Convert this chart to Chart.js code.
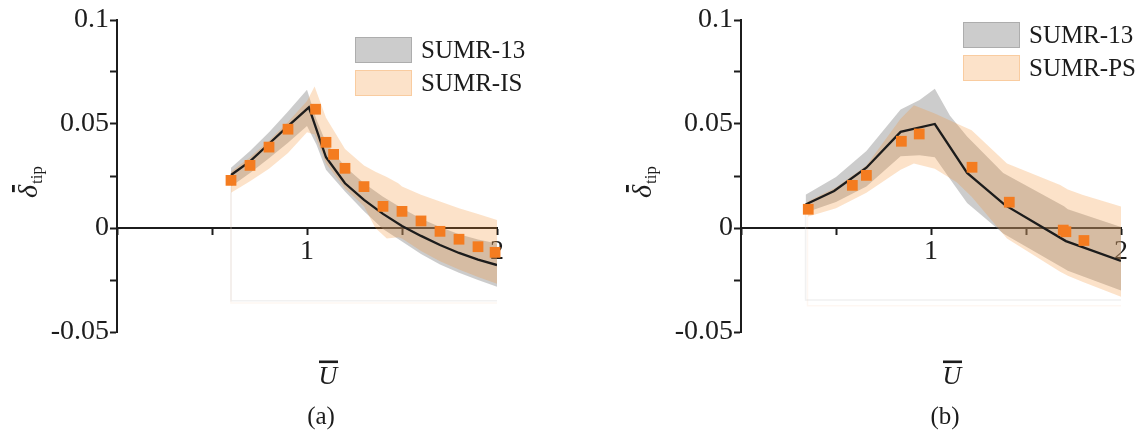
<!DOCTYPE html>
<html>
<head>
<meta charset="utf-8">
<script src="https://cdn.jsdelivr.net/npm/chart.js@4.4.1/dist/chart.umd.min.js"></script>
<style>
  html, body { margin: 0; padding: 0; background: #fff; }
  #wrap { position: relative; width: 1139px; height: 433px; }
  canvas { position: absolute; top: 0; }
  #panelA { left: 0; }
  #panelB { left: 560px; }
</style>
</head>
<body>
<div id="wrap">
  <canvas id="panelA" width="560" height="433"></canvas>
  <canvas id="panelB" width="579" height="433"></canvas>
</div>
<script>
// ---- panel (a): SUMR-13 vs SUMR-IS ----
const scatterA_x = [0.6, 0.7, 0.8, 0.9, 1.045, 1.1, 1.14, 1.2, 1.3, 1.4, 1.5, 1.6, 1.7, 1.8, 1.9, 1.99];
const scatterA_y = [0.0229, 0.0301, 0.0389, 0.0475, 0.0571, 0.0412, 0.0354, 0.0287, 0.0199, 0.0104, 0.008, 0.0034, -0.0016, -0.0054, -0.009, -0.0117];

const lineA_x = [0.6, 0.7, 0.8, 0.9, 1.01, 1.1, 1.2, 1.3, 1.4, 1.5, 1.6, 1.7, 1.8, 1.9, 2.0];
const lineA_y = [0.0255, 0.032, 0.0405, 0.049, 0.058, 0.034, 0.0215, 0.0135, 0.0068, 0.001, -0.0038, -0.0082, -0.012, -0.0152, -0.0178];

const grayA_x  = [0.6, 0.7, 0.8, 0.9, 1.0, 1.05, 1.1, 1.2, 1.3, 1.4, 1.5, 1.6, 1.7, 1.8, 1.9, 2.0];
const grayA_hi = [0.029, 0.037, 0.046, 0.056, 0.0665, 0.052, 0.041, 0.0295, 0.0215, 0.015, 0.0095, 0.0045, 0.0005, -0.003, -0.0055, -0.0075];
const grayA_lo = [0.020, 0.0265, 0.0335, 0.041, 0.049, 0.040, 0.028, 0.0175, 0.008, -0.0005, -0.0065, -0.0125, -0.0175, -0.0215, -0.025, -0.0282];

const orangeA_x  = [0.6, 0.7, 0.8, 0.9, 1.0, 1.04, 1.1, 1.2, 1.3, 1.36, 1.42, 1.48, 1.5, 1.6, 1.7, 1.8, 1.9, 2.0];
const orangeA_hi = [0.027, 0.034, 0.042, 0.051, 0.061, 0.068, 0.053, 0.038, 0.030, 0.027, 0.0245, 0.0215, 0.020, 0.016, 0.0127, 0.0095, 0.0067, 0.0038];
const orangeA_lo = [0.017, 0.0225, 0.0285, 0.036, 0.046, 0.045, 0.031, 0.019, 0.0105, 0.0, -0.005, -0.0045, -0.005, -0.011, -0.016, -0.020, -0.0235, -0.0268];

const edgeA_x = [0.6, 0.6, 2.0];
const edgeA_gray = [0.020, -0.035, -0.035];
const edgeA_orange = [0.017, -0.036, -0.036];

// ---- panel (b): SUMR-13 vs SUMR-PS ----
const scatterB_x = [0.354, 0.586, 0.66, 0.844, 0.938, 1.216, 1.412, 1.696, 1.71, 1.805];
const scatterB_y = [0.009, 0.0205, 0.0253, 0.0417, 0.0452, 0.0292, 0.0124, -0.001, -0.0018, -0.006];

const lineB_x = [0.34, 0.49, 0.66, 0.84, 1.02, 1.19, 1.39, 1.71, 2.0];
const lineB_y = [0.0113, 0.0178, 0.029, 0.0462, 0.050, 0.0265, 0.011, -0.0063, -0.0158];

const grayB_x  = [0.34, 0.5, 0.66, 0.84, 0.94, 1.02, 1.1, 1.19, 1.38, 1.7, 1.72, 2.0];
const grayB_hi = [0.016, 0.0245, 0.037, 0.057, 0.0615, 0.067, 0.054, 0.044, 0.0265, 0.0105, 0.009, 0.0005];
const grayB_lo = [0.0075, 0.0125, 0.020, 0.0345, 0.035, 0.034, 0.0235, 0.012, -0.0026, -0.0195, -0.0205, -0.030];

const orangeB_x  = [0.35, 0.5, 0.66, 0.84, 0.91, 1.02, 1.135, 1.214, 1.4, 1.68, 1.72, 1.8, 2.0];
const orangeB_hi = [0.0127, 0.0195, 0.030, 0.0525, 0.059, 0.055, 0.0503, 0.047, 0.031, 0.0207, 0.0185, 0.0159, 0.0103];
const orangeB_lo = [0.0054, 0.0095, 0.017, 0.028, 0.031, 0.0285, 0.022, 0.015, -0.005, -0.021, -0.023, -0.026, -0.033];

const edgeB_gray_x = [0.34, 0.34, 2.0];
const edgeB_gray = [0.0075, -0.0346, -0.0346];
const edgeB_orange_x = [0.35, 0.35, 2.0];
const edgeB_orange = [0.0054, -0.0374, -0.0374];

const yTicks = [-0.05, 0, 0.05, 0.1];
const xTicks = [1, 2];

const ink = '#1c1c1c';
const grayFill = 'rgba(128,128,128,0.4)';
const orangeFill = 'rgba(245,140,40,0.25)';
const serif = '"Liberation Serif", "Times New Roman", serif';

function pts(xs, ys) {
  return xs.map((x, i) => ({ x: x, y: ys[i] }));
}

// legend, axis titles and panel letter drawn on top of the chart
const decor = {
  id: 'decor',
  afterDraw(chart, args, o) {
    const ctx = chart.ctx, area = chart.chartArea;
    ctx.save();
    o.legend.forEach((it, i) => {
      const y = o.legendY + i * 33;
      ctx.fillStyle = it.color;
      ctx.fillRect(o.legendX, y, 57, 26);
      ctx.strokeStyle = it.color;
      ctx.lineWidth = 1;
      ctx.strokeRect(o.legendX + 0.5, y + 0.5, 56, 25);
      ctx.fillStyle = ink;
      ctx.font = '25px ' + serif;
      ctx.textAlign = 'left';
      ctx.textBaseline = 'middle';
      ctx.fillText(it.text, o.legendX + 66, y + 14);
    });

    // x title: U with overbar
    const ux = area.left + 211;
    ctx.fillStyle = ink;
    ctx.textAlign = 'center';
    ctx.textBaseline = 'alphabetic';
    ctx.font = 'italic 26px ' + serif;
    ctx.fillText('U', ux, 384);
    ctx.fillRect(ux - 9, 360.5, 19, 2.6);

    // panel letter
    ctx.font = '25px ' + serif;
    ctx.fillText(o.label, area.left + 204, 424);

    // y title: delta with overbar, subscript tip
    ctx.translate(area.left - o.yGap, 198);
    ctx.rotate(-Math.PI / 2);
    ctx.textAlign = 'left';
    ctx.font = 'italic 28px ' + serif;
    ctx.fillText('δ', 0, 0);
    const w = ctx.measureText('δ').width;
    ctx.fillRect(w * 0.45, -25, w * 0.55, 2.8);
    ctx.font = '17px ' + serif;
    ctx.fillText('tip', w + 1, 5);
    ctx.restore();
  }
};

function makePanel(id, d) {
  const ctx = document.getElementById(id).getContext('2d');
  return new Chart(ctx, {
    type: 'line',
    data: {
      datasets: [
        {
          label: 'measured', data: pts(d.sx, d.sy), showLine: false,
          pointStyle: 'rect', pointRadius: 7.6, pointBorderWidth: 0,
          pointBackgroundColor: '#f47c20', clip: false, order: 0
        },
        {
          label: 'SUMR-13 mean', data: pts(d.lx, d.ly), borderColor: ink,
          borderWidth: 2.3, pointRadius: 0, tension: 0, order: 1
        },
        {
          label: d.name, data: pts(d.ox, d.ohi), borderWidth: 0, pointRadius: 0,
          backgroundColor: orangeFill, fill: '+1', order: 2
        },
        {
          label: d.name + ' low', data: pts(d.ox, d.olo), borderWidth: 0, pointRadius: 0,
          order: 2
        },
        {
          label: 'SUMR-13', data: pts(d.gx, d.ghi), borderWidth: 0, pointRadius: 0,
          backgroundColor: grayFill, fill: '+1', order: 3
        },
        {
          label: 'SUMR-13 low', data: pts(d.gx, d.glo), borderWidth: 0, pointRadius: 0,
          order: 3
        },
        {
          label: 'edge gray', data: pts(d.egx, d.egy), borderColor: 'rgba(200,200,200,0.25)',
          borderWidth: 1.5, pointRadius: 0, order: 4
        },
        {
          label: 'edge orange', data: pts(d.eox, d.eoy), borderColor: 'rgba(245,170,110,0.09)',
          borderWidth: 1.5, pointRadius: 0, order: 4
        }
      ]
    },
    options: {
      responsive: false,
      animation: false,
      layout: { padding: { left: 0, right: d.padRight, top: 20, bottom: 101 } },
      plugins: {
        legend: { display: false },
        tooltip: { enabled: false },
        decor: {
          legend: [
            { text: 'SUMR-13', color: grayFill },
            { text: d.name, color: orangeFill }
          ],
          legendX: d.legendX, legendY: d.legendY, label: d.label, yGap: d.yGap
        }
      },
      scales: {
        x: {
          type: 'linear', min: 0, max: 2,
          position: { y: 0 },
          border: { display: true, color: ink, width: 2 },
          grid: { drawOnChartArea: false, drawTicks: true, tickLength: 6, tickColor: ink, tickWidth: 2 },
          ticks: {
            stepSize: 0.5, autoSkip: false, maxRotation: 0, padding: 1, color: ink,
            font: { family: serif, size: 28 },
            callback: v => xTicks.some(t => Math.abs(t - v) < 1e-6) ? String(Math.round(v)) : ''
          }
        },
        y: {
          type: 'linear', min: -0.05, max: 0.1,
          position: 'left',
          afterFit: s => { s.width = d.axisLeft; },
          border: { display: true, color: ink, width: 2 },
          grid: { drawOnChartArea: false, drawTicks: true, tickLength: 7, tickColor: ink, tickWidth: 2 },
          ticks: {
            stepSize: 0.025, autoSkip: false, padding: 1, color: ink,
            font: { family: serif, size: 28 },
            callback: v => {
              const hit = yTicks.find(t => Math.abs(t - v) < 1e-6);
              return hit === undefined ? '' : String(hit);
            }
          }
        }
      }
    },
    plugins: [decor]
  });
}

makePanel('panelA', {
  sx: scatterA_x, sy: scatterA_y, lx: lineA_x, ly: lineA_y,
  gx: grayA_x, ghi: grayA_hi, glo: grayA_lo,
  ox: orangeA_x, ohi: orangeA_hi, olo: orangeA_lo,
  egx: edgeA_x, egy: edgeA_gray, eox: edgeA_x, eoy: edgeA_orange,
  name: 'SUMR-IS', label: '(a)',
  axisLeft: 117, padRight: 63, legendX: 355, legendY: 37, yGap: 80
});

makePanel('panelB', {
  sx: scatterB_x, sy: scatterB_y, lx: lineB_x, ly: lineB_y,
  gx: grayB_x, ghi: grayB_hi, glo: grayB_lo,
  ox: orangeB_x, ohi: orangeB_hi, olo: orangeB_lo,
  egx: edgeB_gray_x, egy: edgeB_gray, eox: edgeB_orange_x, eoy: edgeB_orange,
  name: 'SUMR-PS', label: '(b)',
  axisLeft: 181, padRight: 18, legendX: 403, legendY: 22, yGap: 90
});
</script>
</body>
</html>
